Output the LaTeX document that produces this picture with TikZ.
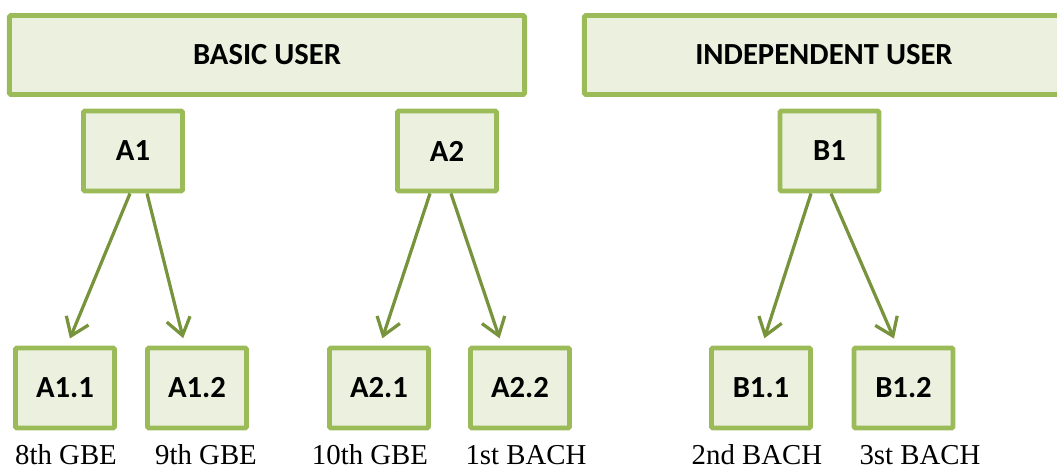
\documentclass[tikz,border=0pt]{standalone}
\usepackage{fontspec}
\setmainfont{Liberation Serif}
\newfontfamily\boxfont{Carlito}
\usetikzlibrary{positioning, arrows.meta}
\definecolor{cborde}{RGB}{155,187,89}
\definecolor{cfondo}{RGB}{235,241,222}
\definecolor{cflecha}{RGB}{119,147,60}

\begin{document}
\begin{tikzpicture}[x=0.025cm, y=-0.025cm,
    >={Straight Barb[length=4.2mm, width=6mm]},
    nivel/.style={draw=cborde, fill=cfondo, line width=3.5pt, rounded corners=1pt,
      minimum width=2.475cm, minimum height=2cm, inner sep=0pt,
      font=\boxfont\bfseries\fontsize{21.8}{25}\selectfont},
    banda/.style={nivel, minimum height=1.975cm},
    curso/.style={anchor=base, inner sep=0pt, font=\fontsize{20.5}{24}\selectfont},
    enlace/.style={->, draw=cflecha, line width=2.3pt, shorten >=0.19cm}]

  \useasboundingbox (0,0) rectangle (1057,468);

  % bandas
  \node[banda, minimum width=12.875cm] (BU) at (267,55) {BASIC USER};
  \node[banda, minimum width=11.975cm] (IU) at (824,55) {INDEPENDENT USER};

  % niveles
  \node[nivel] (A1) at (133,151) {A1};
  \node[nivel] (A2) at (447,151) {A2};
  \node[nivel] (B1) at (829.5,151) {B1};

  \node[nivel] (A11) at (65,388)    {A1.1};
  \node[nivel] (A12) at (197,388)   {A1.2};
  \node[nivel] (A21) at (379,388)   {A2.1};
  \node[nivel] (A22) at (520,388)   {A2.2};
  \node[nivel] (B11) at (761,388)   {B1.1};
  \node[nivel] (B12) at (903.5,388) {B1.2};

  % cursos
  \node[curso] (C11) at (66,464)  {8th GBE};
  \node[curso] (C12) at (206,464) {9th GBE};
  \node[curso] (C21) at (370,464) {10th GBE};
  \node[curso] (C22) at (526,464) {1st BACH};
  \node[curso] (C31) at (757,464) {2nd BACH};
  \node[curso] (C32) at (920,464) {3st BACH};

  \draw[enlace] ([shift={(-3,0)}]A1.south)   -- ([shift={(2,0)}]A11.north);
  \draw[enlace] ([shift={(14,0)}]A1.south)   -- ([shift={(-12,0)}]A12.north);
  \draw[enlace] ([shift={(-17,0)}]A2.south)  -- ([shift={(1,0)}]A21.north);
  \draw[enlace] ([shift={(4,0)}]A2.south)    -- ([shift={(-18,0)}]A22.north);
  \draw[enlace] ([shift={(-18.5,0)}]B1.south) -- ([shift={(1,0)}]B11.north);
  \draw[enlace] ([shift={(1.5,0)}]B1.south)  -- ([shift={(-6.5,0)}]B12.north);
\end{tikzpicture}
\end{document}
